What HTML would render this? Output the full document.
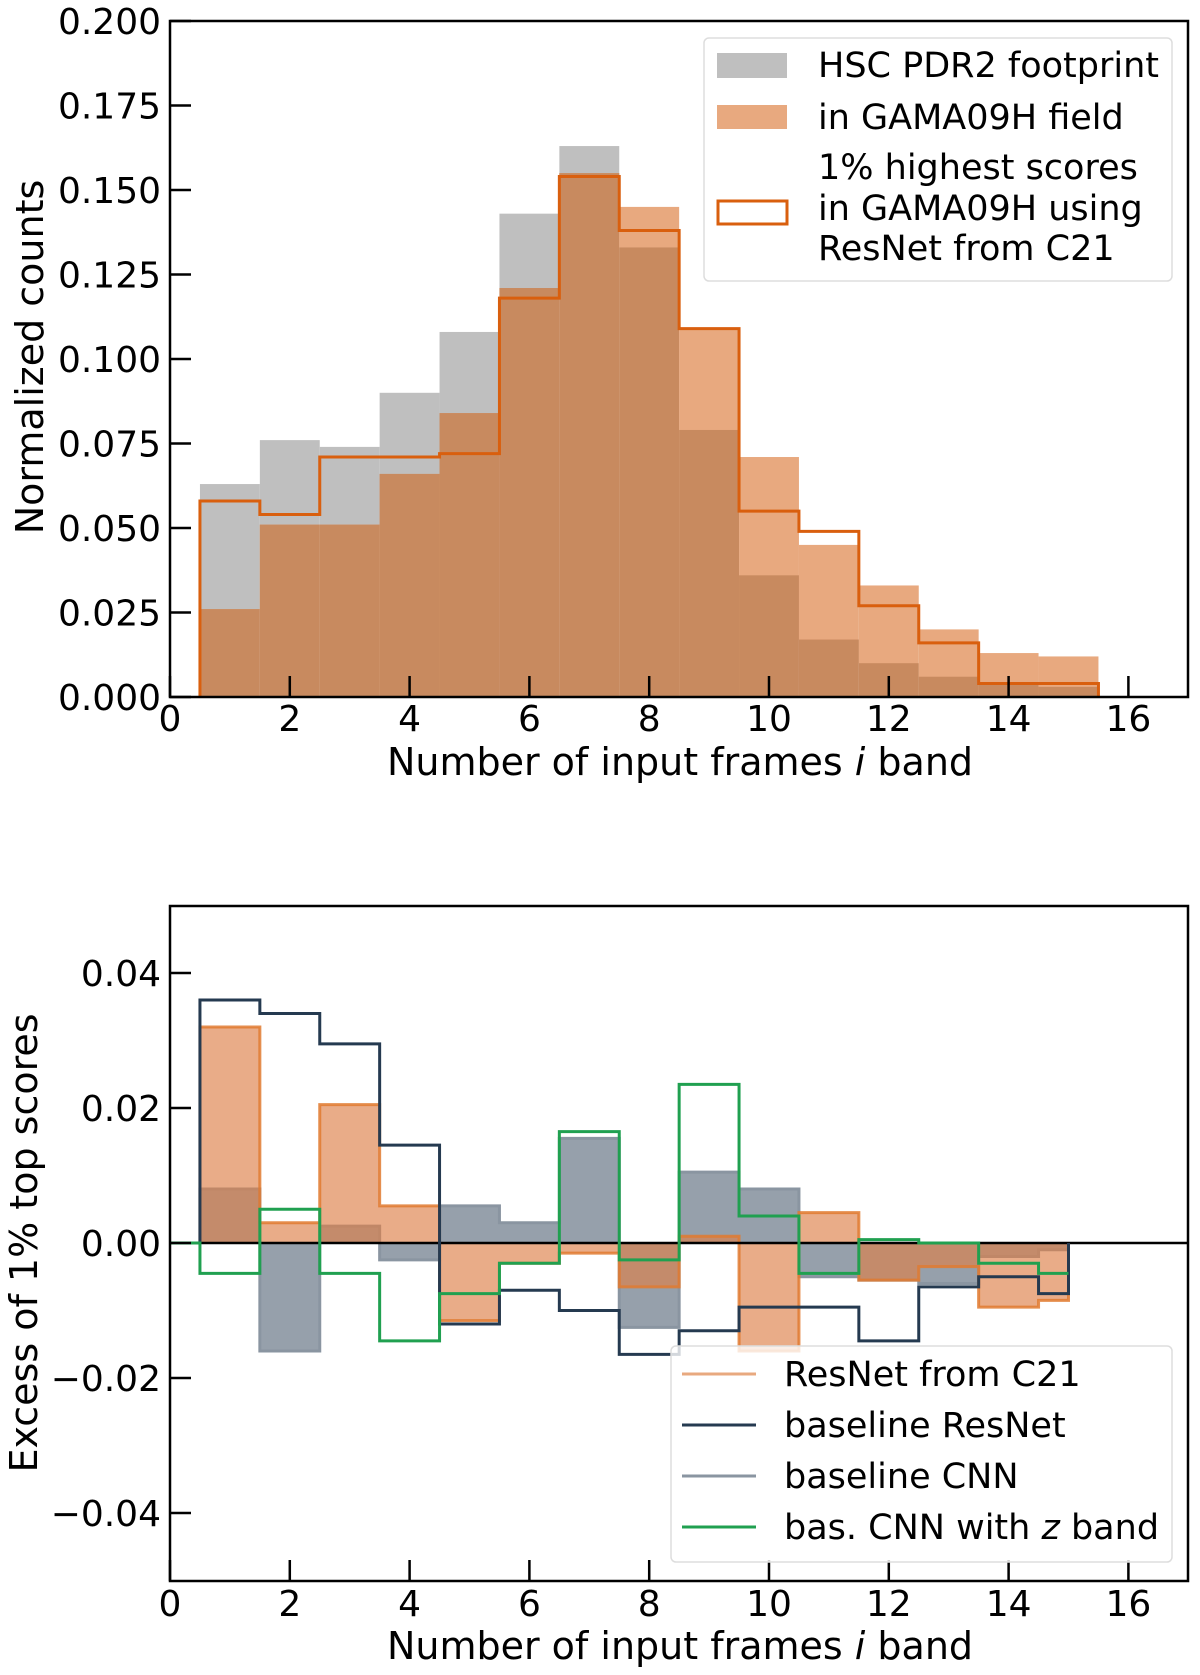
<!DOCTYPE html>
<html><head><meta charset="utf-8"><style>
html,body{margin:0;padding:0;background:#fff}
svg text{font-family:"DejaVu Sans","Liberation Sans",sans-serif;fill:#000}
</style></head><body>
<svg id="fig" width="1200" height="1675" viewBox="0 0 1200 1675" xmlns="http://www.w3.org/2000/svg" style="position:absolute;left:0;top:0">
<g id="topPanel"></g>
<g id="botPanel"></g>
</svg>
<script>
// ---- top panel data (bins centred 1..15) ----
const binCenters = [1,2,3,4,5,6,7,8,9,10,11,12,13,14,15];
const hscCounts  = [0.063,0.076,0.074,0.090,0.108,0.143,0.163,0.133,0.079,0.036,0.017,0.010,0.006,0.004,0.003];
const gamaCounts = [0.026,0.051,0.051,0.066,0.084,0.121,0.155,0.145,0.109,0.071,0.045,0.033,0.020,0.013,0.012];
const topScores  = [0.058,0.054,0.071,0.071,0.072,0.118,0.154,0.138,0.109,0.055,0.049,0.027,0.016,0.004,0.004];
const topYTicks = [0,0.025,0.05,0.075,0.1,0.125,0.15,0.175,0.2];
const topYTickLabels = ["0.000","0.025","0.050","0.075","0.100","0.125","0.150","0.175","0.200"];
const xTicks = [0,2,4,6,8,10,12,14,16];
const xTickLabels = ["0","2","4","6","8","10","12","14","16"];
// ---- bottom panel data (bin left edges; last bin 14.5-15) ----
const exEdges = [0.5,1.5,2.5,3.5,4.5,5.5,6.5,7.5,8.5,9.5,10.5,11.5,12.5,13.5,14.5,15];
const resnetC21 = [0.032,0.003,0.0205,0.0055,-0.0115,-0.003,-0.0015,-0.0065,0.001,-0.016,0.0045,-0.0055,-0.0035,-0.0095,-0.0085];
const baseResnet = [0.036,0.034,0.0295,0.0145,-0.012,-0.007,-0.010,-0.0165,-0.013,-0.0095,-0.0095,-0.0145,-0.0065,-0.005,-0.0075];
const baseCNN = [0.008,-0.016,0.0025,-0.0025,0.0055,0.003,0.0155,-0.0125,0.0105,0.008,-0.005,-0.0055,-0.006,-0.002,-0.001];
const cnnZ = [-0.0045,0.005,-0.0045,-0.0145,-0.0075,-0.003,0.0165,-0.0025,0.0235,0.004,-0.0045,0.0005,0.0,-0.003,-0.0045];
const botYTicks = [-0.04,-0.02,0,0.02,0.04];
const botYTickLabels = ["\u22120.04","\u22120.02","0.00","0.02","0.04"];

const NS="http://www.w3.org/2000/svg";
function mk(parent,tag,attrs,text){const e=document.createElementNS(NS,tag);for(const k in attrs)e.setAttribute(k,attrs[k]);if(text!==undefined)e.textContent=text;parent.appendChild(e);return e;}
const X0=170,X1=1188;
const xs=v=>X0+v*59.9;
const ysT=v=>697-v*3380;
const ysB=v=>1243-v*6750;
const TF=36;

// ===== TOP =====
const topG=document.getElementById('topPanel');
binCenters.forEach((c,i)=>{
  const xa=xs(c-0.5),xb=xs(c+0.5);
  const g=hscCounts[i],o=gamaCounts[i],m=Math.min(g,o);
  let r=mk(topG,'rect',{x:xa,y:ysT(g),width:xb-xa,height:ysT(0)-ysT(g),fill:'#bfbfbf'});
  
  
  r=mk(topG,'rect',{x:xa,y:ysT(o),width:xb-xa,height:ysT(0)-ysT(o),fill:'#e8a97f'});
  
  
  r=mk(topG,'rect',{x:xa,y:ysT(m),width:xb-xa,height:ysT(0)-ysT(m),fill:'#c88a5f'});
  
  
});
let dPath=`M${xs(0.5)},${ysT(0)}`;
binCenters.forEach((c,i)=>{dPath+=` L${xs(c-0.5)},${ysT(topScores[i])} L${xs(c+0.5)},${ysT(topScores[i])}`;});
dPath+=` L${xs(15.5)},${ysT(0)}`;
let pEl=mk(topG,'path',{d:dPath,fill:'none',stroke:'#d95f0e','stroke-width':3});


mk(topG,'rect',{x:X0,y:21,width:X1-X0,height:676,fill:'none',stroke:'#000','stroke-width':2.5});
topYTicks.forEach((v,i)=>{
  mk(topG,'line',{x1:X0,x2:X0+21,y1:ysT(v),y2:ysT(v),stroke:'#000','stroke-width':2.5});
  const t=mk(topG,'text',{x:161,y:ysT(v)+13,'font-size':TF,'text-anchor':'end'},topYTickLabels[i]);
  
  
});
xTicks.forEach((v,i)=>{
  mk(topG,'line',{x1:xs(v),x2:xs(v),y1:697,y2:676,stroke:'#000','stroke-width':2.5});
  const t=mk(topG,'text',{x:xs(v),y:731,'font-size':TF,'text-anchor':'middle'},xTickLabels[i]);
  
  
});
// ===== BOTTOM =====
const botG=document.getElementById('botPanel');
function stepPath(vals,ys){let s=`M${xs(exEdges[0])},${ys(0)}`;vals.forEach((v,i)=>{s+=` L${xs(exEdges[i])},${ys(v)} L${xs(exEdges[i+1])},${ys(v)}`;});s+=` L${xs(exEdges[exEdges.length-1])},${ys(0)}`;return s;}
pEl=mk(botG,'path',{d:stepPath(baseCNN,ysB),fill:'#96a0ab',stroke:'#8a95a1','stroke-width':3});


pEl=mk(botG,'path',{d:stepPath(resnetC21,ysB),fill:'#dd8048','fill-opacity':0.65,stroke:'#e07a30','stroke-width':3,'stroke-opacity':0.85});


mk(botG,'line',{x1:X0,x2:X1,y1:ysB(0),y2:ysB(0),stroke:'#000','stroke-width':2.5});
pEl=mk(botG,'path',{d:stepPath(baseResnet,ysB),fill:'none',stroke:'#253a50','stroke-width':3});


let gz=`M${xs(0)},${ysB(0)} L${xs(0.5)},${ysB(0)}`;
cnnZ.forEach((v,i)=>{gz+=` L${xs(exEdges[i])},${ysB(v)} L${xs(exEdges[i+1])},${ysB(v)}`;});
pEl=mk(botG,'path',{d:gz,fill:'none',stroke:'#20a050','stroke-width':3});


mk(botG,'rect',{x:X0,y:906,width:X1-X0,height:675,fill:'none',stroke:'#000','stroke-width':2.5});
botYTicks.forEach((v,i)=>{
  mk(botG,'line',{x1:X0,x2:X0+21,y1:ysB(v),y2:ysB(v),stroke:'#000','stroke-width':2.5});
  const t=mk(botG,'text',{x:161,y:ysB(v)+13,'font-size':TF,'text-anchor':'end'},botYTickLabels[i]);
  
  
});
xTicks.forEach((v,i)=>{
  mk(botG,'line',{x1:xs(v),x2:xs(v),y1:1581,y2:1560,stroke:'#000','stroke-width':2.5});
  const t=mk(botG,'text',{x:xs(v),y:1616,'font-size':TF,'text-anchor':'middle'},xTickLabels[i]);
  
  
});
</script>
<svg style="position:absolute;left:0;top:0" width="1200" height="1675" viewBox="0 0 1200 1675" xmlns="http://www.w3.org/2000/svg">
<text x="680" y="775" font-size="38" text-anchor="middle">Number of input frames <tspan font-style="italic">i</tspan> band</text>
<text transform="translate(43,357) rotate(-90)" font-size="38" text-anchor="middle">Normalized counts</text>
<g>
<rect x="704" y="38" width="468" height="243" rx="5" fill="#fff" fill-opacity="0.8" stroke="#ddd" stroke-width="1.5"/>
<rect x="717" y="53" width="70" height="25" fill="#bfbfbf"/>
<rect x="717" y="105" width="70" height="24" fill="#e8a97f"/>
<rect x="718" y="201" width="69" height="23" fill="#fff" stroke="#d95f0e" stroke-width="3"/>
<text x="818" y="77" font-size="35">HSC PDR2 footprint</text>
<text x="818" y="129" font-size="35">in GAMA09H field</text>
<text x="818" y="179" font-size="35">1% highest scores</text>
<text x="818" y="220" font-size="35">in GAMA09H using</text>
<text x="818" y="260" font-size="35">ResNet from C21</text>
</g>
<text x="680" y="1659" font-size="38" text-anchor="middle">Number of input frames <tspan font-style="italic">i</tspan> band</text>
<text transform="translate(37,1243) rotate(-90)" font-size="38" text-anchor="middle">Excess of 1% top scores</text>
<g>
<rect x="671" y="1346" width="501" height="216" rx="5" fill="#fff" fill-opacity="0.8" stroke="#ddd" stroke-width="1.5"/>
<line x1="682" x2="756" y1="1374" y2="1374" stroke="#e8a97f" stroke-width="3"/>
<line x1="682" x2="756" y1="1425" y2="1425" stroke="#253a50" stroke-width="3"/>
<line x1="682" x2="756" y1="1476" y2="1476" stroke="#8a95a1" stroke-width="3"/>
<line x1="682" x2="756" y1="1527" y2="1527" stroke="#20a050" stroke-width="3"/>
<text x="784" y="1386" font-size="35">ResNet from C21</text>
<text x="784" y="1437" font-size="35">baseline ResNet</text>
<text x="784" y="1488" font-size="35">baseline CNN</text>
<text x="784" y="1539" font-size="35">bas. CNN with <tspan font-style="italic">z</tspan> band</text>
</g>
</svg>
</body></html>
